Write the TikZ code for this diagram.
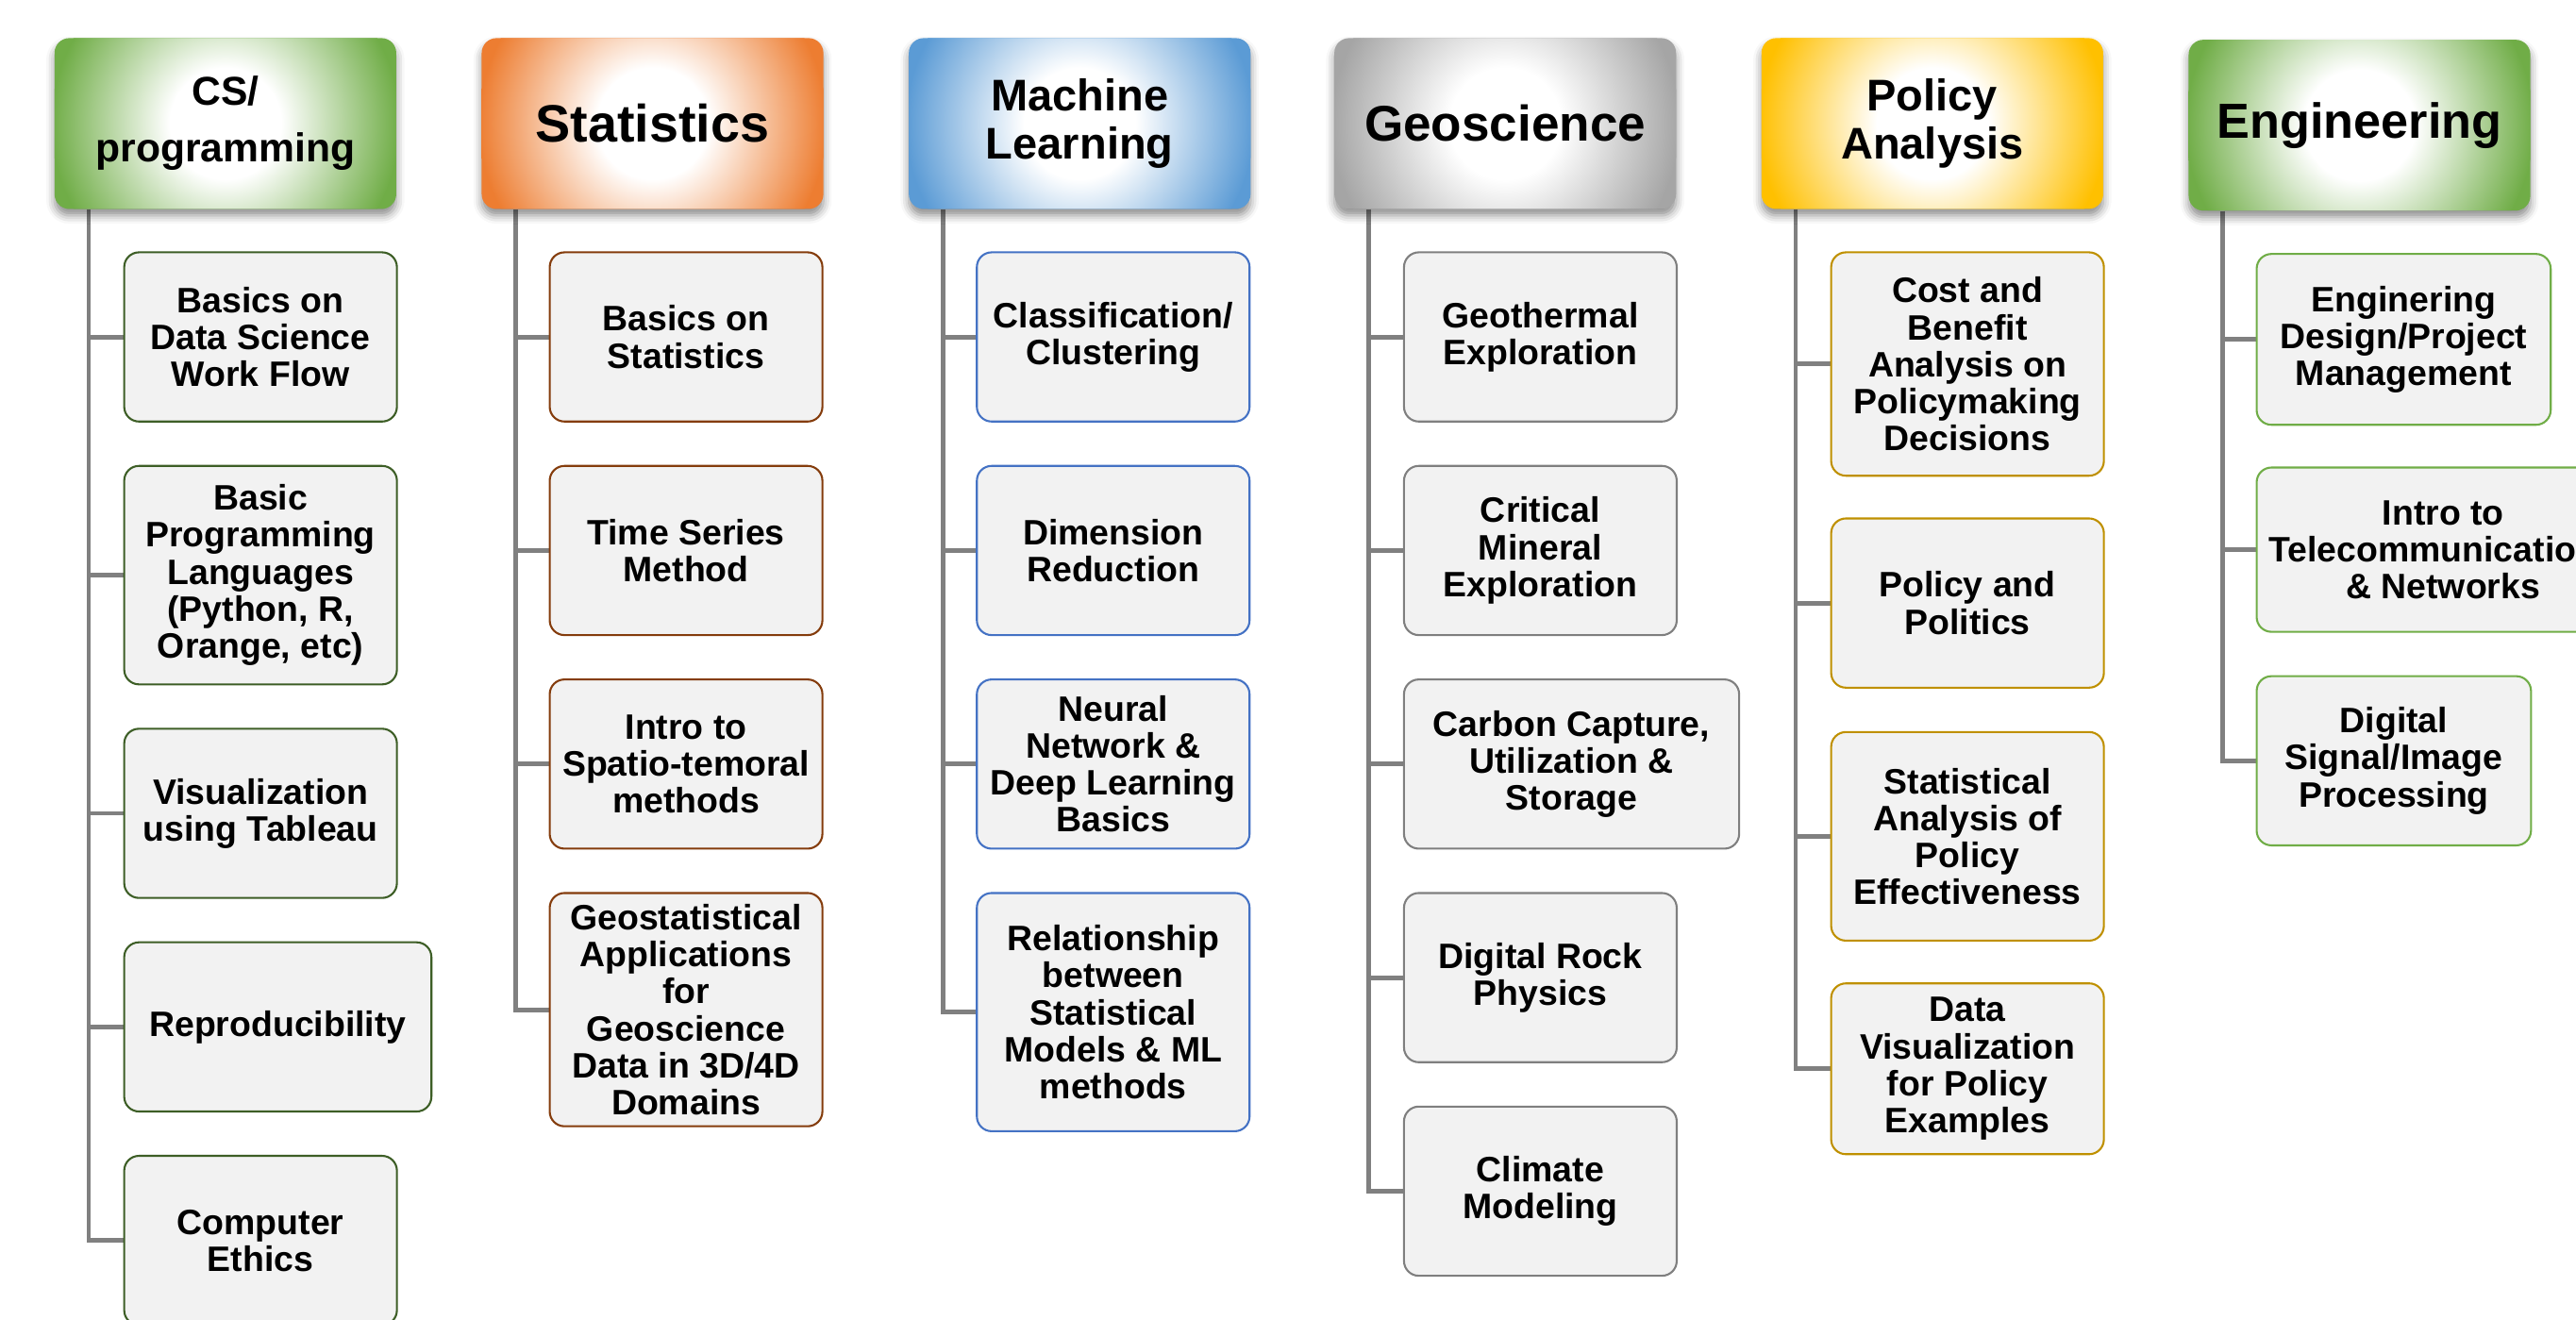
\documentclass[tikz,border=0pt]{standalone}
\usepackage{fontspec}
\setmainfont{Liberation Sans}
\usetikzlibrary{shadows.blur,backgrounds}

\providecommand{\topicfont}{\fontsize{21.5}{22.5}\selectfont\bfseries}
\providecommand{\hdrfont}[2]{\fontsize{#1}{#2}\selectfont\bfseries}

\definecolor{csgreen}{HTML}{70AD47}
\definecolor{csedge}{HTML}{3D5E26}
\definecolor{statorange}{HTML}{ED7D31}
\definecolor{statedge}{HTML}{843C0C}
\definecolor{mlblue}{HTML}{5B9BD5}
\definecolor{mledge}{HTML}{4472C4}
\definecolor{geogray}{HTML}{A5A5A5}
\definecolor{geoedge}{HTML}{7F7F7F}
\definecolor{polgold}{HTML}{FFC000}
\definecolor{poledge}{HTML}{BF9000}
\definecolor{enggreen}{HTML}{70AD47}
\definecolor{engedge}{HTML}{70AD47}
\definecolor{topicfill}{HTML}{F2F2F2}
\definecolor{branchgray}{HTML}{808080}
\colorlet{hdrcol}{white}

\pgfdeclareradialshading[hdrcol]{glow}{\pgfpointorigin}{%
  color(0bp)=(white); color(8bp)=(white); color(25bp)=(hdrcol); color(50bp)=(hdrcol)}

\begin{document}
\begin{tikzpicture}[x=1pt,y=-1pt]
\tikzset{
  Header/.style = {fill=#1, rounded corners=9pt, anchor=north west, inner sep=0pt,
                   minimum width=208pt, minimum height=104pt, align=center,
                   blur shadow={shadow xshift=0pt, shadow yshift=-4pt,
                                shadow blur radius=5pt, shadow opacity=45},
                   path picture={\colorlet{hdrcol}{#1}%
                     \shade[shading=glow] (path picture bounding box.center) circle[radius=106pt];}},
  Topic/.style  = {fill=topicfill, line width=1.2pt, rounded corners=9pt,
                   anchor=north west, inner sep=0pt, align=center,
                   minimum width=166pt, minimum height=103pt, font=\topicfont},
  Branch/.style = {draw=branchgray, line width=2.8pt},
}
\useasboundingbox (0,0) rectangle (1568,803);
\clip (0,0) rectangle (1568,803);

  % CS / programming
  \node[Header=csgreen, font=\hdrfont{24.5}{34.5}] (cs) at (33,23) {CS/\\programming};
  \begin{scope}
    \tikzset{Topic/.append style = {draw=csedge}}
    \node[Topic] (cs1) at (75,153) {Basics on\\Data Science\\Work Flow};
    \node[Topic, minimum height=133pt] (cs2) at (75,283)
      {Basic\\Programming\\Languages\\(Python, R,\\Orange, etc)};
    \node[Topic] (cs3) at (75,443) {Visualization\\using Tableau};
    \node[Topic, minimum width=187pt] (cs4) at (75,573) {Reproducibility};
    \node[Topic] (cs5) at (75,703) {Computer\\Ethics};
  \end{scope}

  % statistics
  \node[Header=statorange, font=\hdrfont{32}{36}] (st) at (293,23) {Statistics};
  \begin{scope}
    \tikzset{Topic/.append style = {draw=statedge}}
    \node[Topic] (st1) at (334,153) {Basics on\\Statistics};
    \node[Topic] (st2) at (334,283) {Time Series\\Method};
    \node[Topic] (st3) at (334,413) {Intro to\\Spatio-temoral\\methods};
    \node[Topic, minimum height=142pt] (st4) at (334,543)
      {Geostatistical\\Applications\\for\\Geoscience\\Data in 3D/4D\\Domains};
  \end{scope}

  % machine learning
  \node[Header=mlblue, font=\hdrfont{27}{29}] (ml) at (553,23) {Machine\\Learning};
  \begin{scope}
    \tikzset{Topic/.append style = {draw=mledge}}
    \node[Topic] (ml1) at (594,153) {Classification/\\Clustering};
    \node[Topic] (ml2) at (594,283) {Dimension\\Reduction};
    \node[Topic] (ml3) at (594,413) {Neural\\Network \&\\Deep Learning\\Basics};
    \node[Topic, minimum height=145pt] (ml4) at (594,543)
      {Relationship\\between\\Statistical\\Models \& ML\\methods};
  \end{scope}

  % geoscience
  \node[Header=geogray, font=\hdrfont{30.5}{34}] (geo) at (812,23) {Geoscience};
  \begin{scope}
    \tikzset{Topic/.append style = {draw=geoedge}}
    \node[Topic] (geo1) at (854,153) {Geothermal\\Exploration};
    \node[Topic] (geo2) at (854,283) {Critical\\Mineral\\Exploration};
    \node[Topic, minimum width=204pt] (geo3) at (854,413)
      {Carbon Capture,\\Utilization \&\\Storage};
    \node[Topic] (geo4) at (854,543) {Digital Rock\\Physics};
    \node[Topic] (geo5) at (854,673) {Climate\\Modeling};
  \end{scope}

  % policy analysis
  \node[Header=polgold, font=\hdrfont{27}{29}] (pol) at (1072,23) {Policy\\Analysis};
  \begin{scope}
    \tikzset{Topic/.append style = {draw=poledge}}
    \node[Topic, minimum height=136pt] (pol1) at (1114,153)
      {Cost and\\Benefit\\Analysis on\\Policymaking\\Decisions};
    \node[Topic] (pol2) at (1114,315) {Policy and\\Politics};
    \node[Topic, minimum height=127pt] (pol3) at (1114,445)
      {Statistical\\Analysis of\\Policy\\Effectiveness};
    \node[Topic, minimum height=104pt] (pol4) at (1114,598)
      {Data\\Visualization\\for Policy\\Examples};
  \end{scope}

  % engineering
  \node[Header=enggreen, font=\hdrfont{30}{34}] (eng) at (1332,24) {Engineering};
  \begin{scope}
    \tikzset{Topic/.append style = {draw=engedge}}
    \node[Topic, minimum width=179pt, minimum height=104pt] (eng1) at (1373,154)
      {Enginering\\Design/Project\\Management};
    \node[Topic, minimum width=227pt, minimum height=100pt] (eng2) at (1373,284)
      {Intro to\\Telecommunications\\\& Networks};
    \node[Topic, minimum width=167pt] (eng3) at (1373,411)
      {Digital\\Signal/Image\\Processing};
  \end{scope}

  % branches
  \begin{scope}[on background layer]
    \foreach \t in {cs1,cs2,cs3,cs4,cs5}
      \draw[Branch] (cs.south west) ++(21,0) |- (\t.west);
    \foreach \t in {st1,st2,st3,st4}
      \draw[Branch] (st.south west) ++(21,0) |- (\t.west);
    \foreach \t in {ml1,ml2,ml3,ml4}
      \draw[Branch] (ml.south west) ++(21,0) |- (\t.west);
    \foreach \t in {geo1,geo2,geo3,geo4,geo5}
      \draw[Branch] (geo.south west) ++(21,0) |- (\t.west);
    \foreach \t in {pol1,pol2,pol3,pol4}
      \draw[Branch] (pol.south west) ++(21,0) |- (\t.west);
    \foreach \t in {eng1,eng2,eng3}
      \draw[Branch] (eng.south west) ++(21,0) |- (\t.west);
  \end{scope}

\end{tikzpicture}
\end{document}
